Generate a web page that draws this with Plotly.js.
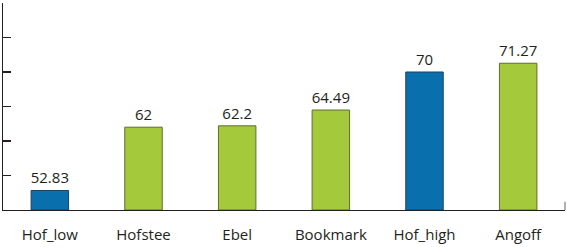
<!DOCTYPE html>
<html>
<head>
<meta charset="utf-8">
<script src="https://cdn.plot.ly/plotly-3.0.1.min.js"></script>
<style>html,body{margin:0;padding:0;background:#fff;}#chart{width:567px;height:247px;}</style>
</head>
<body>
<div id="chart"></div>
<script>
const categories = ["Hof_low", "Hofstee", "Ebel", "Bookmark", "Hof_high", "Angoff"];
const values = [52.83, 62, 62.2, 64.49, 70, 71.27];
const valueLabels = ["52.83", "62", "62.2", "64.49", "70", "71.27"];
const isHofsteeBound = [true, false, false, false, true, false];
const axisMin = 50;

const fillBlue = "#0a6fad", lineBlue = "#1f3f5f";
const fillGreen = "#a4c93b", lineGreen = "#5f6f2a";

const trace = {
  type: "bar",
  x: categories,
  y: values.map(v => v - axisMin),
  base: axisMin,
  text: valueLabels,
  textposition: "outside",
  constraintext: "none",
  cliponaxis: false,
  textfont: {family: "Open Sans", size: 15, color: "#231f20"},
  marker: {
    color: isHofsteeBound.map(b => b ? fillBlue : fillGreen),
    line: {color: isHofsteeBound.map(b => b ? lineBlue : lineGreen), width: 1}
  },
  hoverinfo: "none"
};

const layout = {
  width: 567, height: 247,
  margin: {l: 3, r: 2, t: 3, b: 37},
  paper_bgcolor: "#fff", plot_bgcolor: "#fff",
  showlegend: false,
  bargap: 0.6,
  font: {family: "Open Sans", size: 15, color: "#231f20"},
  xaxis: {
    type: "category",
    showline: true, linecolor: "#231f20", linewidth: 1.3,
    ticks: "", showgrid: false, zeroline: false,
    ticklabelstandoff: 11,
    tickfont: {family: "Open Sans", size: 15, color: "#231f20"}
  },
  yaxis: {
    range: [50, 80], tick0: 50, dtick: 5,
    showline: true, linecolor: "#231f20", linewidth: 1.3,
    ticks: "inside", ticklen: 8, tickcolor: "#231f20", tickwidth: 1.3,
    showticklabels: false, showgrid: false, zeroline: false
  },
  shapes: [{
    type: "line", xref: "paper", yref: "paper",
    x0: 1, x1: 1, y0: 0, y1: 0.04,
    line: {color: "#888", width: 1.3}
  }]
};

Plotly.newPlot("chart", [trace], layout, {displayModeBar: false, staticPlot: true});
</script>
</body>
</html>
